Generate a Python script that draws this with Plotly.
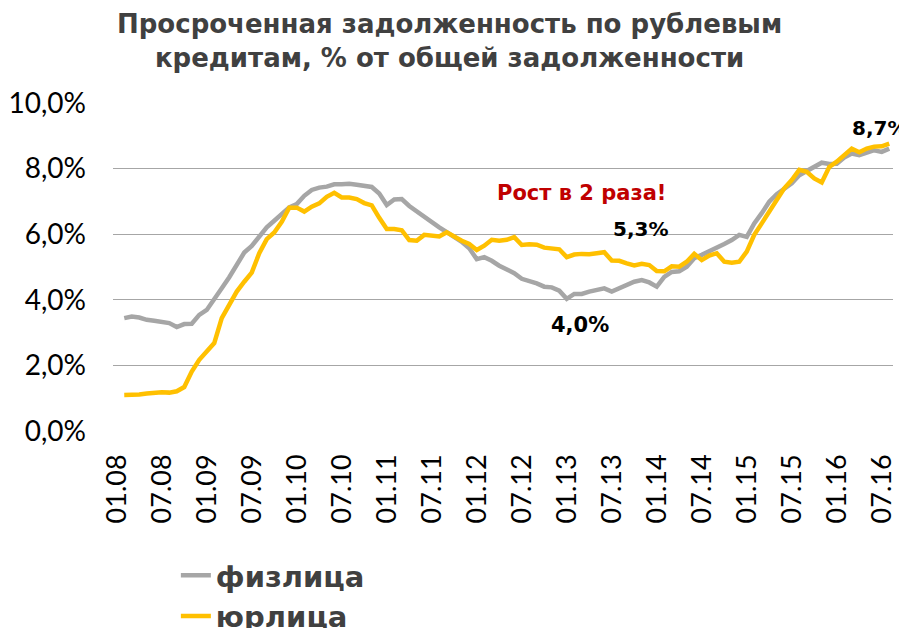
import plotly.graph_objects as go

# Monthly categories 01.08 ... 08.16 (first month has no data)
YEARS = ["08", "09", "10", "11", "12", "13", "14", "15", "16"]
MONTHS = ["01", "02", "03", "04", "05", "06", "07", "08", "09", "10", "11", "12"]
categories = [f"{m}.{y}" for y in YEARS for m in MONTHS][:104]

tick_labels = ["01.08", "07.08", "01.09", "07.09", "01.10", "07.10", "01.11", "07.11",
               "01.12", "07.12", "01.13", "07.13", "01.14", "07.14", "01.15", "07.15",
               "01.16", "07.16"]

y_tickvals = [0, 2, 4, 6, 8, 10]
y_ticktext = ["0,0%", "2,0%", "4,0%", "6,0%", "8,0%", "10,0%"]

# физлица (individuals), % — from 02.08 to 08.16
fiz = [None,
       3.44, 3.49, 3.46, 3.39, 3.36, 3.34, 3.29, 3.17, 3.26, 3.27,
       3.54, 3.69, 4.05, 4.35, 4.69, 5.06, 5.44, 5.64, 5.92, 6.21,
       6.41, 6.61, 6.82, 6.92, 7.17, 7.35, 7.42, 7.45, 7.52, 7.52,
       7.54, 7.51, 7.48, 7.44, 7.24, 6.89, 7.06, 7.07, 6.86, 6.69,
       6.53, 6.35, 6.21, 6.06, 5.92, 5.77, 5.57, 5.24, 5.30, 5.19,
       5.04, 4.91, 4.81, 4.64, 4.58, 4.50, 4.40, 4.38, 4.28, 4.03,
       4.18, 4.18, 4.25, 4.30, 4.35, 4.25, 4.35, 4.45, 4.55, 4.60,
       4.53, 4.40, 4.70, 4.85, 4.87, 5.01, 5.27, 5.37, 5.47, 5.57,
       5.70, 5.82, 5.98, 5.92, 6.33, 6.64, 6.99, 7.22, 7.40, 7.55,
       7.80, 7.93, 8.05, 8.18, 8.14, 8.15, 8.34, 8.46, 8.41, 8.48,
       8.56, 8.51, 8.61]

# юрлица (companies), %
yur = [None,
       1.10, 1.10, 1.11, 1.14, 1.17, 1.18, 1.17, 1.21, 1.34, 1.81,
       2.17, 2.42, 2.68, 3.44, 3.87, 4.25, 4.55, 4.83, 5.42, 5.85,
       6.05, 6.38, 6.81, 6.81, 6.69, 6.84, 6.94, 7.14, 7.26, 7.12,
       7.12, 7.07, 6.95, 6.88, 6.50, 6.16, 6.16, 6.12, 5.82, 5.80,
       5.98, 5.97, 5.93, 6.06, 5.92, 5.80, 5.70, 5.52, 5.65, 5.83,
       5.80, 5.83, 5.91, 5.67, 5.69, 5.68, 5.59, 5.58, 5.54, 5.30,
       5.38, 5.40, 5.39, 5.42, 5.45, 5.20, 5.19, 5.11, 5.05, 5.10,
       5.06, 4.88, 4.87, 5.02, 5.01, 5.16, 5.40, 5.21, 5.35, 5.42,
       5.16, 5.13, 5.16, 5.47, 5.98, 6.33, 6.69, 7.09, 7.40, 7.65,
       7.96, 7.90, 7.70, 7.58, 8.05, 8.21, 8.41, 8.61, 8.50, 8.61,
       8.67, 8.68, 8.76]

GRAY = "#A6A6A6"
GOLD = "#FFC000"
TXT = "#404040"

# The page body has an 8px margin, so the figure is 8px smaller on each axis
W, H = 899, 620

fig = go.Figure()
fig.add_trace(go.Scatter(x=categories, y=fiz, name="физлица", mode="lines",
                         line=dict(color=GRAY, width=4.5), legendgroup="a"))
fig.add_trace(go.Scatter(x=categories, y=yur, name="юрлица", mode="lines",
                         line=dict(color=GOLD, width=4.5), legendgroup="b"))

bold = "DejaVu Sans"
fig.update_layout(
    width=W, height=H,
    margin=dict(l=105, r=14, t=95, b=197, autoexpand=False),
    paper_bgcolor="white", plot_bgcolor="white",
    showlegend=True,
    legend=dict(x=0.0806, xanchor="left", xref="paper",
                y=1 - (550 - 8) / H, yanchor="top", yref="container",
                orientation="v", itemwidth=30, tracegroupgap=0,
                font=dict(family=bold, size=29, color=TXT, weight="bold"),
                bgcolor="rgba(0,0,0,0)"),
    xaxis=dict(type="category", categoryorder="array", categoryarray=categories,
               range=[-0.5, len(categories) - 0.5], automargin=False,
               tickmode="array", tickvals=tick_labels, ticktext=tick_labels,
               tickangle=-90, showgrid=False, showline=False, zeroline=False,
               ticks="", ticklabelstandoff=17,
               tickfont=dict(family="Lato", size=27, color="#000000")),
    yaxis=dict(range=[0, 10], tickvals=y_tickvals, ticktext=y_ticktext, automargin=False,
               showgrid=True, gridcolor="#A6A6A6", gridwidth=1.3,
               zeroline=False, showline=False, ticks="", ticklabelstandoff=26,
               tickfont=dict(family="Lato", size=28, color="#000000")),
)

fig.add_annotation(x=0.432, y=1.19, xref="paper", yref="paper",
                   xanchor="center", yanchor="middle", showarrow=False,
                   text="<b>Просроченная задолженность по рублевым<br>кредитам, % от общей задолженности</b>",
                   font=dict(family=bold, size=26, color=TXT))
fig.add_annotation(x=61.9, y=7.25, text="<b>Рост в 2 раза!</b>", showarrow=False,
                   font=dict(family=bold, size=21, color="#C00000"))
fig.add_annotation(x=69.8, y=6.16, text="<b>5,3%</b>", showarrow=False,
                   font=dict(family=bold, size=20, color="#000000"))
fig.add_annotation(x=61.8, y=3.24, text="<b>4,0%</b>", showarrow=False,
                   font=dict(family=bold, size=21, color="#000000"))
fig.add_annotation(x=1.021, y=0.924, xref="paper", yref="paper",
                   xanchor="right", yanchor="middle", text="<b>8,7%</b>", showarrow=False,
                   font=dict(family=bold, size=20, color="#000000"))

fig.write_html("out.html")
